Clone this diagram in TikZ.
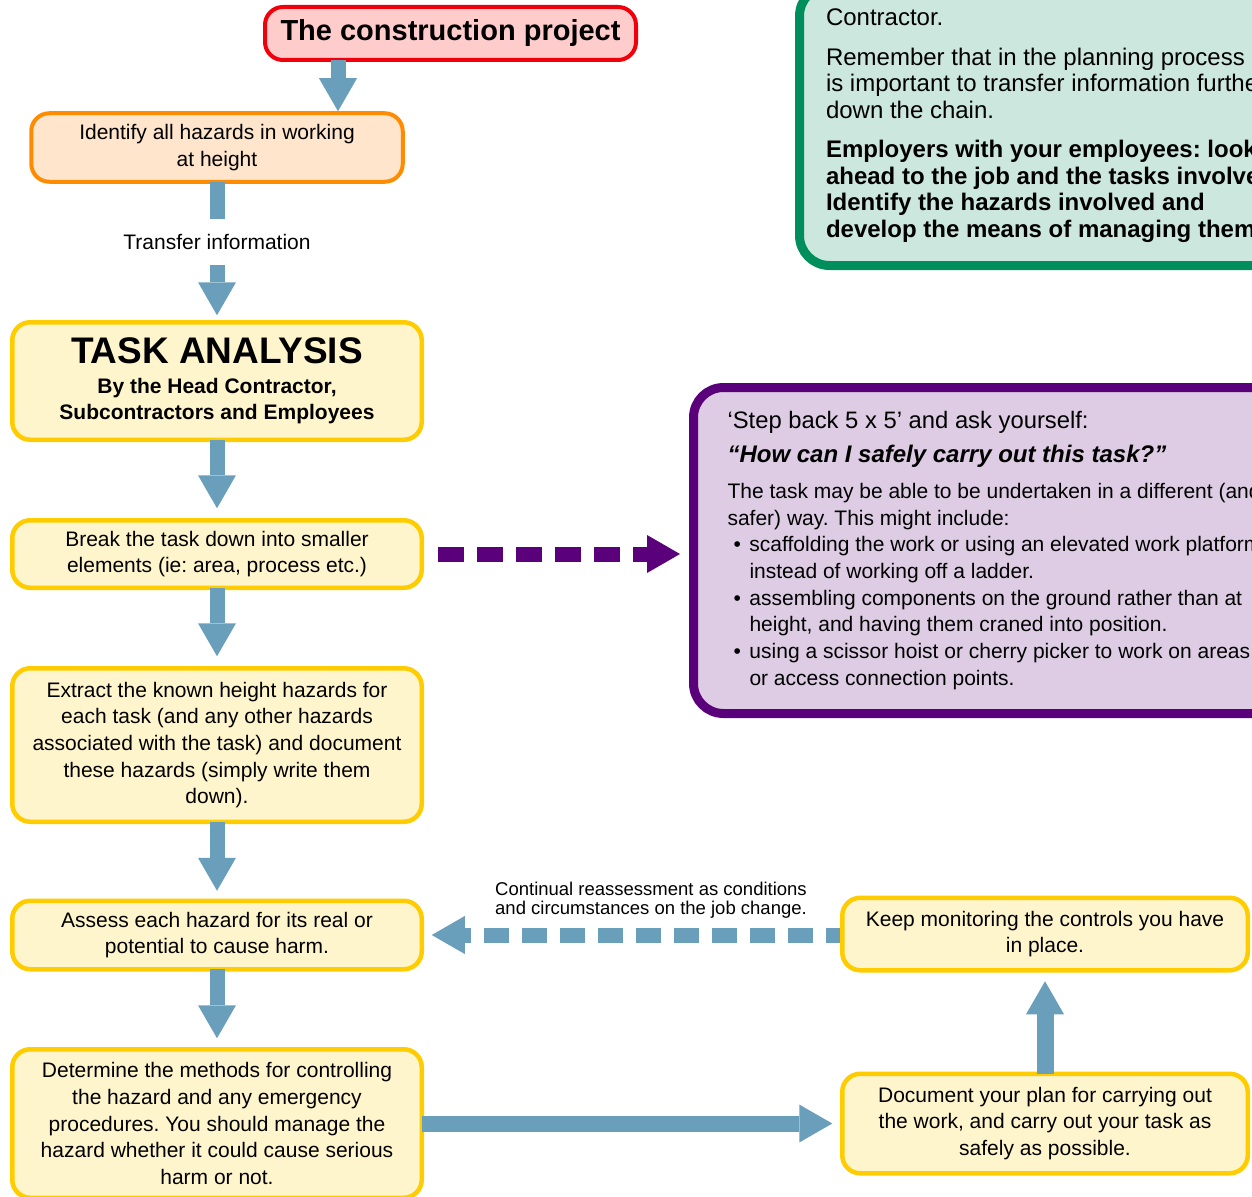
\documentclass[tikz,border=0pt]{standalone}
\usepackage{fontspec}
\setmainfont{Liberation Sans}
\usetikzlibrary{calc}
\frenchspacing
\definecolor{ablue}{RGB}{106,159,188}
\definecolor{pbord}{RGB}{90,0,122}
\definecolor{pfill}{RGB}{221,204,228}
\definecolor{gbord}{RGB}{0,143,92}
\definecolor{gfill}{RGB}{204,231,222}
\definecolor{redb}{RGB}{240,0,10}
\definecolor{pinkf}{RGB}{255,204,204}
\definecolor{orb}{RGB}{255,140,0}
\definecolor{orf}{RGB}{255,229,204}
\definecolor{yb}{RGB}{255,204,0}
\definecolor{yf}{RGB}{255,245,204}
\newcommand\fs[2]{\fontsize{#1}{#2}\selectfont}
% #1 style, #2 shaft width, #3 start, #4 tip
\newcommand\blockarrow[4]{%
  \coordinate (hb) at ($(#4)!33pt!(#3)$);
  \draw[#1, line width=#2] (#3) -- (hb);
  \fill[#1, solid] (#4) -- ($(hb)!19pt!90:(#4)$) -- ($(hb)!19pt!-90:(#4)$) -- cycle;}
\newcommand\bul[1]{\par\hangindent=22pt\hangafter=1\noindent\makebox[22pt][l]{\hspace{6pt}\textbullet}#1}
\tikzset{
  box/.style={rounded corners=18pt, line width=4.5pt, inner sep=0pt, outer sep=0pt, align=center, font=\fs{21}{26.7}},
  ybox/.style={box, draw=yb, fill=yf, minimum width=409.5pt},
  rbox/.style={box, draw=yb, fill=yf, minimum width=405.5pt},
  panel/.style={line width=9pt, rounded corners=30pt, anchor=west, outer sep=0pt, inner ysep=0pt, text width=600pt},
}
\begin{document}
\begin{tikzpicture}[x=1pt,y=-1pt]
\useasboundingbox (0,0) rectangle (1252,1196);
\clip (0,0) rectangle (1252,1196);

% side panels
\node[panel, draw=gbord, fill=gfill, minimum height=279.5pt, inner xsep=26.5pt,
      font=\fs{24}{26.5}] (gbox) at (799.5,125.75)
 {\raggedright\frenchspacing\spaceskip=0pt\xspaceskip=0pt\parindent=0pt\parskip=13pt
  Contractor.\par
  Remember that in the planning process\newline is important to transfer information further\newline down the chain.\par
  {\bfseries Employers with your employees: look\newline ahead to the job and the tasks involved.\newline Identify the hazards involved and\newline develop the means of managing them.\par}};

\node[panel, draw=pbord, fill=pfill, minimum height=326pt, inner xsep=34pt,
      font=\fs{21}{26.7}] (pbox) at (693.5,550.5)
 {\raggedright\frenchspacing\spaceskip=0pt\xspaceskip=0pt\parindent=0pt\parskip=0pt
  {\fs{23.8}{27}‘Step back 5 x 5’ and ask yourself:\par}
  {\fs{24}{34}\bfseries\itshape “How can I safely carry out this task?”\par}
  \vspace{9pt}
  {\fs{21}{26.7}The task may be able to be undertaken in a different (and\newline safer) way. This might include:
  \bul{scaffolding the work or using an elevated work platform\newline instead of working off a ladder.}
  \bul{assembling components on the ground rather than at\newline height, and having them craned into position.}
  \bul{using a scissor hoist or cherry picker to work on areas\newline or access connection points.}\par}};

% flow boxes
\node[box, draw=redb, fill=pinkf, line width=4pt, minimum width=371pt, minimum height=53pt,
      font=\fs{29}{34}\bfseries] (cp) at (450.5,33.5) {The construction project};
\node[box, draw=orb, fill=orf, line width=4pt, minimum width=371.5pt, minimum height=68.5pt] (id) at (217,147.5)
 {Identify all hazards in working\\at height};
\node[font=\fs{21}{26.7}, inner sep=0pt, minimum height=46pt] (tl) at (217,242) {Transfer information};
\node[ybox, minimum height=117.5pt] (task) at (217,381)
 {{\fs{37}{40}\bfseries TASK ANALYSIS}\\[3pt]{\bfseries By the Head Contractor,}\\{\bfseries Subcontractors and Employees}};
\node[ybox, minimum height=67.5pt] (brk) at (217,554)
 {Break the task down into smaller\\elements (ie: area, process etc.)};
\node[ybox, minimum height=153.5pt] (ext) at (217,745)
 {Extract the known height hazards for\\each task (and any other hazards\\associated with the task) and document\\these hazards (simply write them\\down).};
\node[ybox, minimum height=68.5pt] (as) at (217,935)
 {Assess each hazard for its real or\\potential to cause harm.};
\node[ybox, minimum height=148.5pt] (det) at (217,1123.5)
 {Determine the methods for controlling\\the hazard and any emergency\\procedures. You should manage the\\hazard whether it could cause serious\\harm or not.};
\node[rbox, minimum height=72.5pt] (keep) at (1045,934)
 {Keep monitoring the controls you have\\in place.};
\node[rbox, minimum height=99.5pt] (doc) at (1045,1123.5)
 {Document your plan for carrying out\\the work, and carry out your task as\\safely as possible.};
\node[font=\fs{18.5}{18.5}, align=left, inner sep=0pt] (cl) at (651,900)
 {Continual reassessment as conditions\\and circumstances on the job change.};

% connectors
\coordinate (ax1) at (338,0);
\coordinate (a1s) at (cp.south -| ax1);
\path (id.north -| ax1) ++(0,-2) coordinate (a1e);
\blockarrow{ablue}{15pt}{a1s}{a1e}
\draw[ablue, line width=15pt] (id.south) -- (tl.north);
\path (task.north) ++(0,-7) coordinate (a2e);
\blockarrow{ablue}{15pt}{tl.south}{a2e}
\path (brk.north) ++(0,-12) coordinate (a3e);
\blockarrow{ablue}{15pt}{task.south}{a3e}
\path (ext.north) ++(0,-12) coordinate (a4e);
\blockarrow{ablue}{15pt}{brk.south}{a4e}
\path (as.north) ++(0,-10) coordinate (a5e);
\blockarrow{ablue}{15pt}{ext.south}{a5e}
\path (det.north) ++(0,-11) coordinate (a6e);
\blockarrow{ablue}{15pt}{as.south}{a6e}
\coordinate (a7s) at (det.east);
\path (a7s -| doc.west) ++(-10,0) coordinate (a7e);
\blockarrow{ablue}{16pt}{a7s}{a7e}
\path (keep.south) ++(0,11) coordinate (a8e);
\blockarrow{ablue}{17pt}{doc.north}{a8e}
\path (as.east) ++(10,0) coordinate (a9e);
\path (a9e -| keep.west) ++(-2.25,0) coordinate (a9s);
\blockarrow{ablue, dash pattern=on 25pt off 13pt, dash phase=11pt}{15pt}{a9s}{a9e}
\path (brk.east) ++(16,0) coordinate (a10s);
\path (a10s -| pbox.west) ++(-13.5,0) coordinate (a10e);
\blockarrow{pbord, dash pattern=on 26pt off 13pt}{15pt}{a10s}{a10e}
\end{tikzpicture}
\end{document}
